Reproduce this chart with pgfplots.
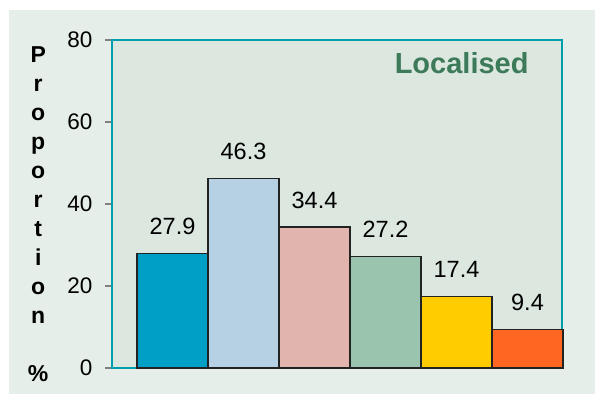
\documentclass[border=0pt]{standalone}
\usepackage{pgfplots}
\pgfplotsset{compat=1.18}
\usepackage{fontspec}
\setmainfont{Liberation Sans}
\definecolor{outerbg}{RGB}{229,238,232}
\definecolor{plotbg}{RGB}{219,231,223}
\definecolor{frame}{RGB}{0,158,170}
\definecolor{titlegreen}{RGB}{61,122,90}
\definecolor{cA}{RGB}{0,160,198}
\definecolor{cB}{RGB}{182,208,228}
\definecolor{cC}{RGB}{225,181,173}
\definecolor{cD}{RGB}{154,196,174}
\definecolor{cE}{RGB}{255,204,0}
\definecolor{cF}{RGB}{255,102,34}
\definecolor{edge}{RGB}{34,34,34}
\begin{document}
\begin{tikzpicture}
\useasboundingbox (-112bp,-26bp) rectangle (483bp,368bp);
\fill[outerbg] (-103bp,-26bp) rectangle (483bp,358bp);
\begin{axis}[
  at={(0,0)}, anchor=south west,
  scale only axis, width=450bp, height=328bp,
  xmin=-0.852, xmax=5.486, ymin=0, ymax=80,
  ytick={0,20,40,60,80}, xtick=\empty,
  ytick pos=left, tick align=outside, major tick length=7bp,
  every tick/.style={gray, line width=1.2bp},
  axis background/.style={fill=plotbg},
  axis line style={frame, line width=2bp},
  /pgf/number format/assume math mode=true,
  yticklabel style={font=\fontsize{22.5bp}{26bp}\selectfont, xshift=-9bp},
  ylabel={P\\r\\o\\p\\o\\r\\t\\i\\o\\n\\[29bp]\%},
  ylabel style={rotate=-90, align=center, font=\fontsize{23bp}{29bp}\selectfont\bfseries,
    at={(rel axis cs:-0.164,0.468)}, anchor=center},
  ybar, bar width=1, bar shift=0pt,
  clip=false,
  nodes near coords,
  every node near coord/.append style={anchor=center, yshift=27bp, text=black,
    font=\fontsize{23.5bp}{27bp}\selectfont},
  every axis plot/.append style={draw=edge, line width=1.3bp},
]
\addplot[fill=cA] coordinates {(0,27.9)};
\addplot[fill=cB] coordinates {(1,46.3)};
\addplot[fill=cC] coordinates {(2,34.4)};
\addplot[fill=cD] coordinates {(3,27.2)};
\addplot[fill=cE] coordinates {(4,17.4)};
\addplot[fill=cF] coordinates {(5,9.4)};
\node[font=\fontsize{29bp}{34bp}\selectfont\bfseries, text=titlegreen, anchor=center]
  at (rel axis cs:0.777,0.93) {Localised};
\end{axis}
\end{tikzpicture}
\end{document}
